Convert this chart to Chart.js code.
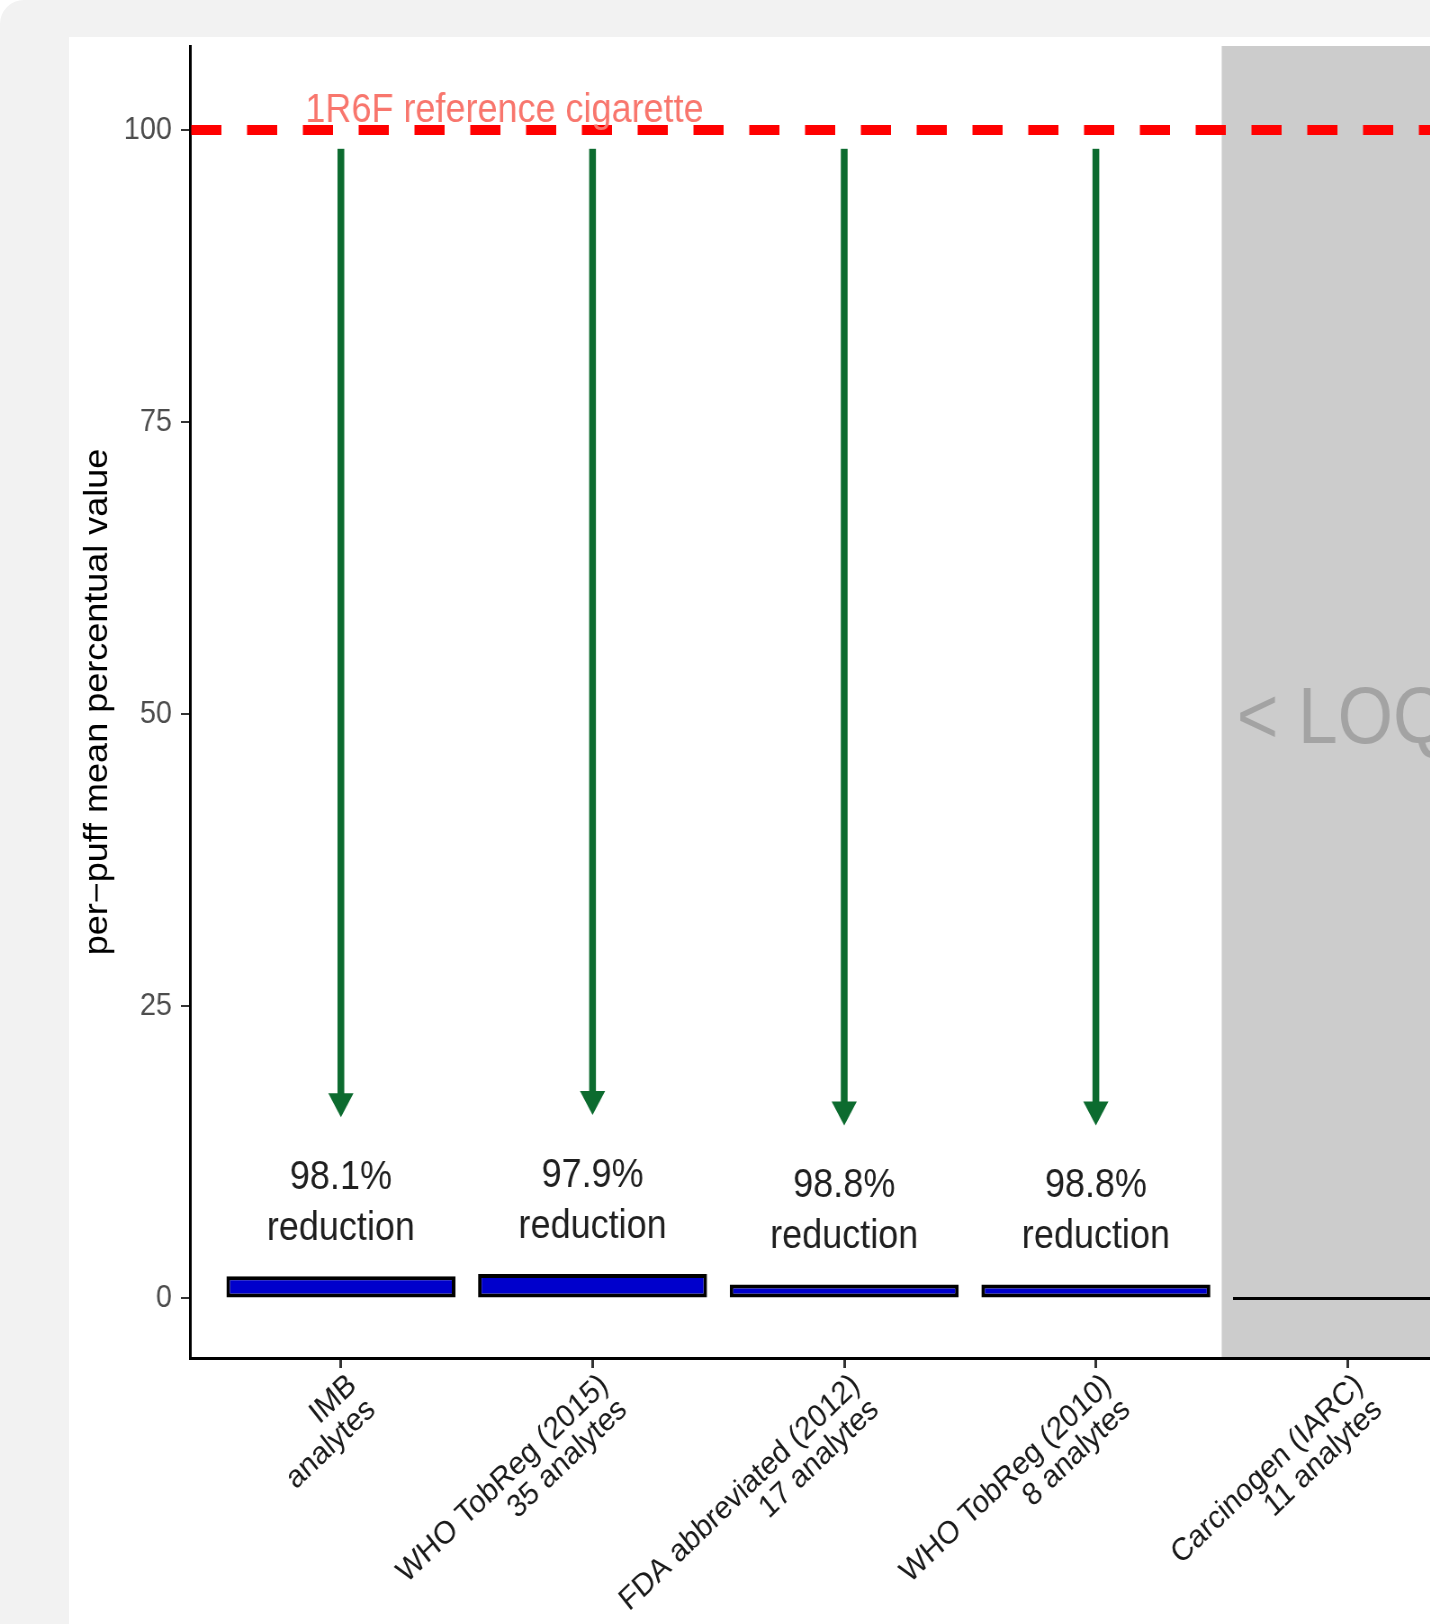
<!DOCTYPE html>
<html>
<head>
<meta charset="utf-8">
<title>per-puff mean percentual value</title>
<script src="https://cdn.jsdelivr.net/npm/chart.js@4.4.1/dist/chart.umd.min.js"></script>
<style>
  html, body { margin: 0; padding: 0; background: #fff; overflow: hidden; }
  body { width: 1430px; height: 1624px; position: relative; }
  .backdrop { position: absolute; left: 0; top: 0; width: 1430px; height: 1624px; background: #f2f2f2; border-top-left-radius: 24px; }
  .card { position: absolute; left: 69px; top: 37px; right: 0; bottom: 0; background: #fff; }
  /* the reference is a bit squeezed sideways, so the canvas is too */
  #chart { position: absolute; left: 0; top: 0; transform: scaleX(0.9); transform-origin: 0 0; }
</style>
</head>
<body>
<div class="backdrop"></div>
<div class="card"></div>
<canvas id="chart" width="1700" height="1624"></canvas>
<script>
// data
const categories = [
  ['IMB', 'analytes'],
  ['WHO TobReg (2015)', '35 analytes'],
  ['FDA abbreviated (2012)', '17 analytes'],
  ['WHO TobReg (2010)', '8 analytes'],
  ['Carcinogen (IARC)', '11 analytes']
];
const meanValues = [1.9, 2.1, 1.2, 1.2, 0];
const reductions = [98.1, 97.9, 98.8, 98.8];
const yTicks = [0, 25, 50, 75, 100];
const referenceValue = 100;
const referenceLabel = '1R6F reference cigarette';
const loqLabel = '< LOQ';
const loqFrom = 3.5;
const yTitle = 'per\u2212puff mean percentual value';

const FONT = '"Liberation Sans", Arial, Helvetica, sans-serif';

// annotation placement, in data units
const arrowFrom = 98.4;
const arrowGap = 13.6;
const textGap = 8.7;

function capText(ctx, text, x, yMid, size) {
  ctx.font = size + 'px ' + FONT;
  ctx.textBaseline = 'alphabetic';
  ctx.fillText(text, x, yMid + size * 0.36);
}

const overlays = {
  id: 'overlays',
  beforeDraw(chart) {
    const { ctx, chartArea: area, scales: { x, y } } = chart;
    const left = x.getPixelForValue(loqFrom);
    ctx.save();
    ctx.fillStyle = '#cccccc';
    ctx.fillRect(left, area.top, area.right - left, area.bottom - area.top);
    ctx.fillStyle = '#a3a3a3';
    ctx.textAlign = 'center';
    capText(ctx, loqLabel, x.getPixelForValue(3.98), y.getPixelForValue(50), 79);
    ctx.restore();
  },
  beforeDatasetsDraw(chart) {
    const { ctx, chartArea: area, scales: { x, y } } = chart;
    const yRef = y.getPixelForValue(referenceValue);
    ctx.save();
    ctx.strokeStyle = '#ff0000';
    ctx.lineWidth = 10;
    ctx.setLineDash([33.5, 28.5]);
    ctx.beginPath();
    ctx.moveTo(area.left + 1.5, yRef);
    ctx.lineTo(area.right, yRef);
    ctx.stroke();
    ctx.setLineDash([]);
    ctx.fillStyle = '#f8766d';
    ctx.textAlign = 'center';
    capText(ctx, referenceLabel, x.getPixelForValue(0.65), y.getPixelForValue(101.9), 40);
    ctx.restore();
  },
  afterDatasetsDraw(chart) {
    const { ctx, scales: { x, y } } = chart;
    const bars = chart.getDatasetMeta(0).data;
    ctx.save();
    // values under LOQ: flat bar drawn as a line
    bars.forEach((bar, i) => {
      if (meanValues[i] !== 0) return;
      ctx.strokeStyle = '#000';
      ctx.lineWidth = 3;
      ctx.beginPath();
      ctx.moveTo(bar.x - bar.width / 2, bar.y);
      ctx.lineTo(bar.x + bar.width / 2, bar.y);
      ctx.stroke();
    });
    reductions.forEach((r, i) => {
      const cx = x.getPixelForValue(i);
      const top = y.getPixelForValue(arrowFrom);
      const tip = y.getPixelForValue(meanValues[i] + arrowGap);
      const headH = 24, headW = 28, shaft = 7.5;
      ctx.fillStyle = '#0c6b2f';
      ctx.fillRect(cx - shaft / 2, top, shaft, tip - headH - top + 1);
      ctx.beginPath();
      ctx.moveTo(cx - headW / 2, tip - headH);
      ctx.lineTo(cx + headW / 2, tip - headH);
      ctx.lineTo(cx, tip);
      ctx.closePath();
      ctx.fill();

      const ty = y.getPixelForValue(meanValues[i] + textGap);
      ctx.fillStyle = '#1f1f1f';
      ctx.textAlign = 'center';
      capText(ctx, r.toFixed(1) + '%', cx, ty, 40);
      capText(ctx, 'reduction', cx, ty + 51, 40);
    });
    ctx.restore();
  }
};

new Chart(document.getElementById('chart'), {
  type: 'bar',
  data: {
    datasets: [{
      data: meanValues.map((v, i) => ({ x: i, y: v })),
      backgroundColor: '#0000cc',
      borderColor: '#000000',
      borderWidth: 4,
      borderSkipped: false,
      barPercentage: 0.91,
      categoryPercentage: 1
    }]
  },
  options: {
    responsive: false,
    animation: false,
    events: [],
    layout: { padding: { left: 0, top: 46, right: 35, bottom: 0 } },
    plugins: { legend: { display: false }, tooltip: { enabled: false } },
    scales: {
      x: {
        type: 'linear',
        offset: false,
        min: -0.6,
        max: 4.6,
        afterBuildTicks: s => { s.ticks = categories.map((c, i) => ({ value: i })); },
        afterFit: s => { s.height = 266; },
        border: { color: '#000', width: 3 },
        grid: { offset: false, drawOnChartArea: false, color: '#333', lineWidth: 3, tickLength: 10 },
        ticks: {
          autoSkip: false,
          minRotation: 41,
          maxRotation: 41,
          padding: 1,
          labelOffset: 13,
          color: '#1a1a1a',
          font: { family: FONT, size: 32, lineHeight: 1.0 },
          callback: (v, i) => categories[i]
        }
      },
      y: {
        min: -5.1,
        max: 107.2,
        afterBuildTicks: s => { s.ticks = yTicks.map(v => ({ value: v })); },
        afterFit: s => { s.width = 211; },
        border: { color: '#000', width: 3 },
        grid: { drawOnChartArea: false, color: '#333', lineWidth: 2, tickLength: 10 },
        ticks: {
          padding: 10,
          color: '#4d4d4d',
          font: { family: FONT, size: 32 }
        },
        title: {
          display: true,
          text: yTitle,
          color: '#000',
          font: { family: FONT, size: 36, lineHeight: 1.2 },
          padding: { top: 87, bottom: 0 }
        }
      }
    }
  },
  plugins: [overlays]
});
</script>
</body>
</html>
